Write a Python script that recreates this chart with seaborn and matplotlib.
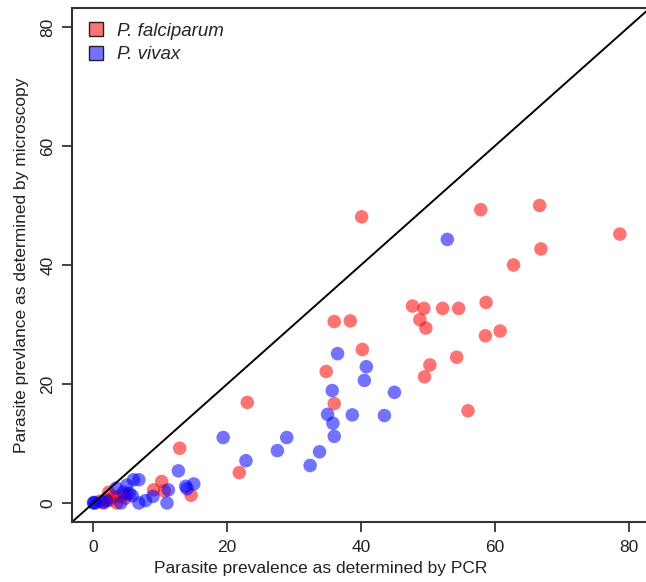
import matplotlib
matplotlib.use("Agg")
import matplotlib.pyplot as plt
from matplotlib.lines import Line2D
import seaborn as sns
import pandas as pd

# P. falciparum (PCR %, microscopy %)
pf_pcr = [40.1, 57.9, 66.7, 78.7, 66.9, 62.8, 47.7, 49.4, 52.2, 54.6, 58.7, 48.8,
          49.7, 58.6, 60.8, 54.3, 50.3, 49.5, 56.0, 36.0, 38.4, 40.2, 34.8, 36.0,
          23.0, 21.8, 12.9, 14.6, 10.2, 9.0, 10.6, 1.5, 2.3, 3.0, 4.0, 4.8, 3.5,
          5.0, 2.5, 1.0]
pf_mic = [48.1, 49.3, 50.0, 45.2, 42.7, 40.0, 33.1, 32.7, 32.7, 32.7, 33.7, 30.8,
          29.4, 28.1, 28.9, 24.5, 23.2, 21.2, 15.5, 30.5, 30.6, 25.8, 22.1, 16.7,
          16.9, 5.1, 9.2, 1.3, 3.6, 2.2, 2.0, 0.0, 1.8, 1.0, 1.2, 0.8, 0.0,
          1.5, 0.5, 0.3]

# P. vivax (PCR %, microscopy %)
pv_pcr = [52.9, 45.0, 43.5, 36.5, 40.8, 40.5, 35.7, 35.0, 38.7, 35.8, 36.0, 19.4,
          28.9, 27.5, 33.8, 32.4, 22.8, 12.7, 13.8, 14.0, 15.0, 11.2, 8.9, 7.8,
          11.0, 6.0, 6.8, 5.0, 3.4, 4.5, 5.4, 5.8, 4.1, 6.8, 2.0, 1.5, 0.0, 0.1, 0.3]
pv_mic = [44.3, 18.6, 14.7, 25.1, 22.9, 20.6, 18.9, 14.9, 14.8, 13.4, 11.2, 11.0,
          11.0, 8.8, 8.6, 6.3, 7.1, 5.4, 2.8, 2.4, 3.2, 2.2, 1.1, 0.4,
          0.0, 3.9, 3.9, 3.0, 2.5, 1.8, 1.6, 1.2, 0.0, 0.0, 0.4, 0.1, 0.0, 0.1, 0.0]

species = ["P. falciparum", "P. vivax"]
ticks = [0, 20, 40, 60, 80]

df = pd.DataFrame({
    "pcr": pf_pcr + pv_pcr,
    "mic": pf_mic + pv_mic,
    "species": [species[0]] * len(pf_pcr) + [species[1]] * len(pv_pcr),
})

sns.set_style("white")
plt.rcParams["font.family"] = ["Liberation Sans", "DejaVu Sans"]

fig = plt.figure(figsize=(6.46, 5.82), dpi=100)
ax = fig.add_axes([72 / 646, 60 / 582, 578 / 646, 514 / 582])

palette = {species[0]: "#ff0000", species[1]: "#0000ff"}
sns.scatterplot(data=df, x="pcr", y="mic", hue="species", palette=palette,
                alpha=0.55, s=95, edgecolor="none", linewidth=0, ax=ax,
                legend=False)

ax.axline((0, 0), slope=1, color="black", lw=1.4, zorder=1)

ax.set_xlim(-3.2, 83.2)
ax.set_ylim(-3.2, 83.2)
ax.set_xticks(ticks)
ax.set_yticks(ticks)
ax.set_xticklabels([str(t) for t in ticks])
ax.set_yticklabels([str(t) for t in ticks], rotation=90, va="center")
ax.tick_params(axis="both", direction="out", length=7, width=1.2,
               colors="#222222", labelsize=12.5, pad=5, left=True, bottom=True)
ax.tick_params(axis="x", pad=6)
for side in ["left", "bottom", "top", "right"]:
    ax.spines[side].set_color("#333333")
    ax.spines[side].set_linewidth(1.5)

ax.set_xlabel("Parasite prevalence as determined by PCR", fontsize=12.5,
              color="#222222")
ax.xaxis.set_label_coords((321 - 72) / 578, -0.075)
ax.set_ylabel("Parasite prevlance as determined by microscopy", fontsize=12.5,
              color="#222222", labelpad=8)

handles = [Line2D([], [], marker="s", linestyle="none", markersize=9.5,
                  markerfacecolor=(1, 0, 0, 0.55), markeredgecolor="#222222",
                  markeredgewidth=1.0),
           Line2D([], [], marker="s", linestyle="none", markersize=9.5,
                  markerfacecolor=(0, 0, 1, 0.55), markeredgecolor="#222222",
                  markeredgewidth=1.0)]
leg = ax.legend(handles, species, loc="upper left", frameon=False,
                prop={"style": "italic", "size": 13.5}, handletextpad=0.5,
                borderaxespad=0.3, labelspacing=0.35, handlelength=1.2,
                bbox_to_anchor=(0.0, 0.997))

fig.savefig("out.png", dpi=100)
